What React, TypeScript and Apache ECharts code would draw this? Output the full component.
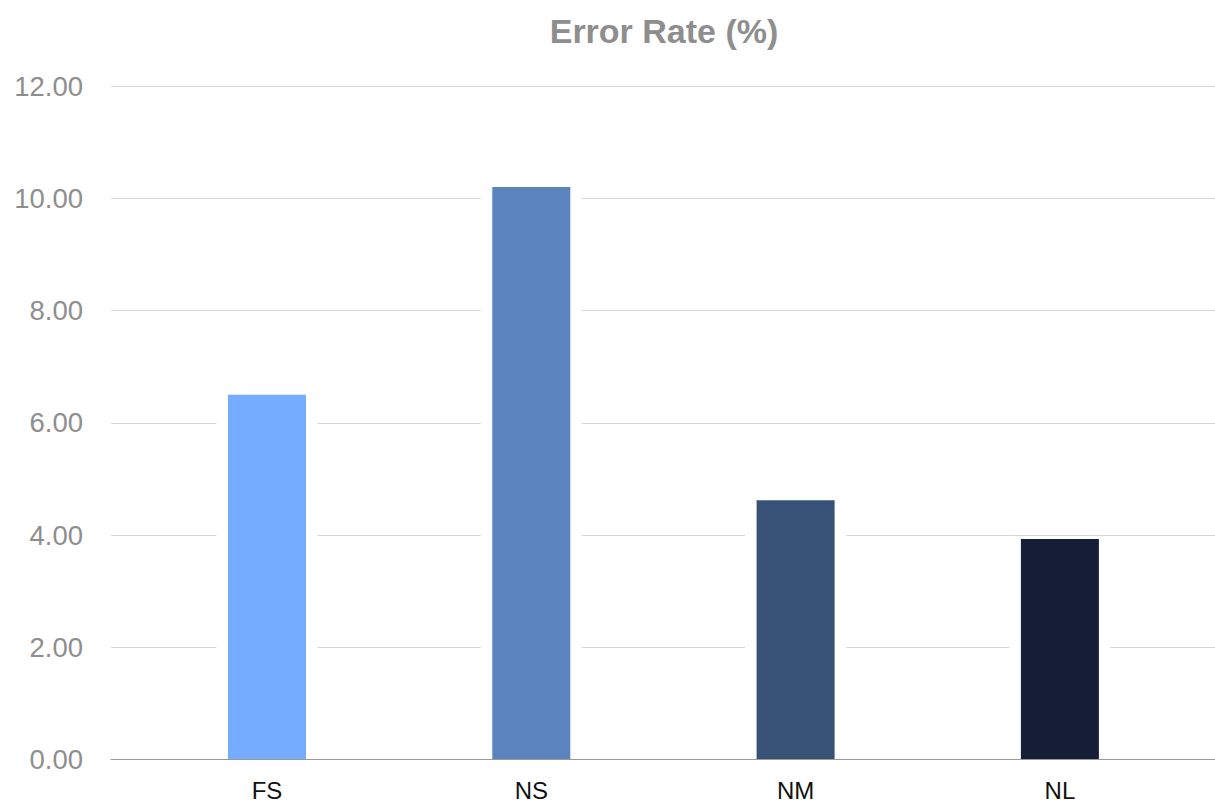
import React, { useEffect, useRef } from "react";
import * as echarts from "echarts";

// Error rate per configuration
const categories = ["FS", "NS", "NM", "NL"];
const errorRates = [6.5, 10.2, 4.62, 3.93];
const barColors = ["#76acff", "#5b83bd", "#385176", "#161e37"];
const yTicks = { min: 0, max: 12, interval: 2 };

const FONT = "'Liberation Sans', Arial, Helvetica, sans-serif";

export default function App() {
  const ref = useRef<HTMLDivElement>(null);

  useEffect(() => {
    document.body.style.margin = "0";
    if (!ref.current) return;
    const chart = echarts.init(ref.current, undefined, { renderer: "svg" });

    const top = 86;
    const bottom = 46.5;

    chart.setOption({
      animation: false,
      backgroundColor: "#ffffff",
      graphic: [
        {
          type: "text",
          x: 664,
          y: 31,
          style: {
            text: "Error Rate (%)",
            x: 0,
            y: 0,
            textAlign: "center",
            textVerticalAlign: "middle",
            fill: "#8e8e8e",
            font: `bold 34px ${FONT}`,
          },
        },
      ],
      grid: [
        // wide grid: gridlines, value labels and baseline
        { left: 111, right: 0, top, bottom, containLabel: false },
        // category band for the bars
        { left: 134.85, right: 22.95, top, bottom, containLabel: false },
      ],
      xAxis: [
        {
          gridIndex: 0,
          type: "category",
          data: [""],
          z: 10,
          axisLine: { show: true, lineStyle: { color: "#9a9a9a", width: 1.2 } },
          axisTick: { show: false },
          axisLabel: { show: false },
          splitLine: { show: false },
        },
        {
          gridIndex: 1,
          type: "category",
          data: categories,
          axisLine: { show: false },
          axisTick: { show: false },
          axisLabel: {
            color: "#111111",
            fontSize: 24,
            fontFamily: FONT,
            margin: 19,
          },
        },
        {
          gridIndex: 1,
          type: "category",
          data: categories,
          show: false,
        },
      ],
      yAxis: [
        {
          gridIndex: 0,
          type: "value",
          min: yTicks.min,
          max: yTicks.max,
          interval: yTicks.interval,
          axisLine: { show: false },
          axisTick: { show: false },
          axisLabel: {
            color: "#8e8e8e",
            fontSize: 27.5,
            fontFamily: FONT,
            margin: 28,
            formatter: (v: number) => v.toFixed(2),
          },
          splitLine: { show: true, lineStyle: { color: "#d6d6d6", width: 1.2 } },
        },
        {
          gridIndex: 1,
          type: "value",
          min: yTicks.min,
          max: yTicks.max,
          interval: yTicks.interval,
          show: false,
          splitLine: { show: false },
        },
      ],
      series: [
        // white halo that breaks the gridlines around each bar
        {
          type: "bar",
          xAxisIndex: 2,
          yAxisIndex: 1,
          data: errorRates,
          barWidth: 101,
          silent: true,
          itemStyle: { color: "#ffffff" },
        },
        {
          type: "bar",
          xAxisIndex: 1,
          yAxisIndex: 1,
          barWidth: 78,
          data: errorRates.map((v, i) => ({
            value: v,
            itemStyle: { color: barColors[i] },
          })),
        },
      ],
    });

    return () => chart.dispose();
  }, []);

  return (
    <div
      ref={ref}
      style={{ position: "absolute", left: 0, top: 0, width: 1215, height: 806 }}
    />
  );
}
